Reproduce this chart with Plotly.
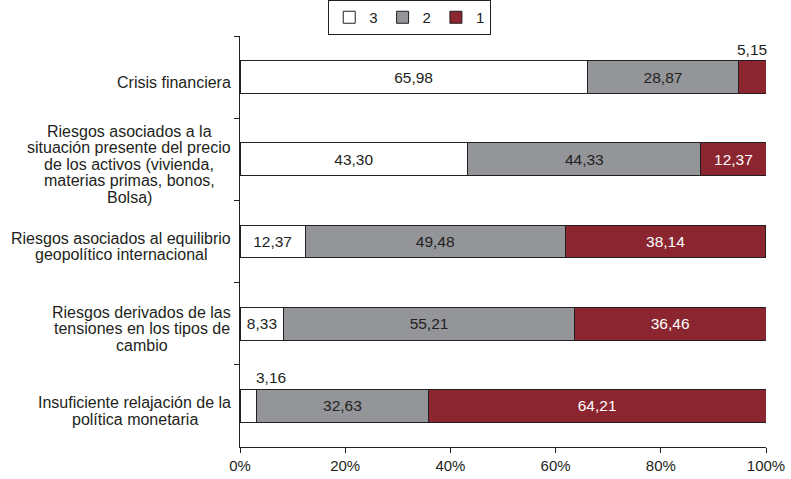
import plotly.graph_objects as go

categories = [
    "Crisis financiera",
    "Riesgos asociados a la<br>situación presente del precio<br>de los activos (vivienda,<br>materias primas, bonos,<br>Bolsa)",
    "Riesgos asociados al equilibrio<br>geopolítico internacional",
    "Riesgos derivados de las<br>tensiones en los tipos de<br>cambio",
    "Insuficiente relajación de la<br>política monetaria",
]
series_names = ["3", "2", "1"]
values_3 = [65.98, 43.30, 12.37, 8.33, 3.16]
values_2 = [28.87, 44.33, 49.48, 55.21, 32.63]
values_1 = [5.15, 12.37, 38.14, 36.46, 64.21]
tick_vals = [0, 20, 40, 60, 80, 100]
tick_text = ["0%", "20%", "40%", "60%", "80%", "100%"]

colors = ["#ffffff", "#939598", "#8b2530"]
text_colors = ["#231f20", "#231f20", "#ffffff"]
FONT = "Liberation Sans, Arial, sans-serif"
FS_LABEL = 16
FS_BAR = 15.5
FS_TICK = 15
LINE_H = 16.5
SMALL = 6.0

# approximate Arial/Liberation Sans advance widths (1/1000 em) for centering label blocks
ADV = {c: 556 for c in "abdeghnopquáéóú"}
ADV.update({"c": 500, "f": 278, "i": 222, "j": 222, "k": 500, "l": 222, "m": 833,
            "r": 333, "s": 500, "t": 278, "v": 500, "w": 722, "x": 500, "y": 500,
            "z": 500, "í": 278, " ": 278, ",": 278, ".": 278, "(": 333, ")": 333,
            "B": 667, "C": 722, "I": 278, "R": 722})

def text_width(s, size):
    return sum(ADV.get(ch, 556) for ch in s) * size / 1000.0

def fmt(v):
    return f"{v:.2f}".replace(".", ",")

fig = go.Figure()
series = [values_3, values_2, values_1]
for name, vals, col, tcol in zip(series_names, series, colors, text_colors):
    fig.add_trace(go.Bar(
        y=categories, x=vals, name=name, orientation="h",
        marker=dict(color=col, line=dict(color="#231f20", width=1)),
        text=[fmt(v) if v >= SMALL else "" for v in vals],
        textposition="inside", insidetextanchor="middle",
        textfont=dict(color=tcol, size=FS_BAR, family=FONT),
        hoverinfo="skip",
    ))

annotations = []
for i, cat in enumerate(categories):
    base = 0.0
    for k, vals in enumerate(series):
        v = vals[i]
        if v < SMALL:
            annotations.append(dict(
                x=base + v / 2, y=cat, xref="x", yref="y",
                text=fmt(v), showarrow=False,
                xanchor="center" if k > 0 else "left",
                xshift=0 if k > 0 else 6,
                yshift=28,
                font=dict(size=FS_BAR, color="#231f20", family=FONT),
            ))
        base += v

# category labels: one annotation per line, centred within the block
for cat in categories:
    lines = cat.split("<br>")
    n = len(lines)
    maxw = max(text_width(s, FS_LABEL) for s in lines)
    for j, line in enumerate(lines):
        annotations.append(dict(
            x=0, y=cat, xref="paper", yref="y", text=line, showarrow=False,
            xanchor="center", yanchor="middle",
            xshift=-(9 + maxw / 2),
            yshift=((n - 1) / 2 - j) * LINE_H - 5,
            font=dict(size=FS_LABEL, color="#231f20", family=FONT),
        ))

fig.update_layout(
    width=791, height=479,
    margin=dict(l=240, r=25, t=36, b=32, autoexpand=False),
    paper_bgcolor="white", plot_bgcolor="white",
    barmode="stack", bargap=0.6,
    font=dict(family=FONT, size=15, color="#231f20"),
    showlegend=True,
    legend=dict(
        orientation="h", xref="container", yref="container",
        x=0.518, xanchor="center", y=1.0, yanchor="top",
        bordercolor="#231f20", borderwidth=1, traceorder="normal",
        font=dict(size=15, family=FONT),
    ),
    annotations=annotations,
    uniformtext=dict(mode="show", minsize=10),
)
fig.update_xaxes(
    range=[0, 100], tickvals=tick_vals, ticktext=tick_text,
    showgrid=False, zeroline=False, showline=True, linecolor="#231f20",
    linewidth=1, ticks="outside", ticklen=5, tickcolor="#231f20",
    tickfont=dict(size=FS_TICK, family=FONT),
)
fig.update_yaxes(
    categoryorder="array", categoryarray=categories, autorange="reversed",
    showticklabels=False, showgrid=False, zeroline=False,
    showline=True, linecolor="#231f20", linewidth=1,
    ticks="outside", ticklen=5, tickcolor="#231f20", tickson="boundaries",
)

fig.write_html("out.html", config={"displayModeBar": False},
               post_script="document.body.style.margin='0';")
